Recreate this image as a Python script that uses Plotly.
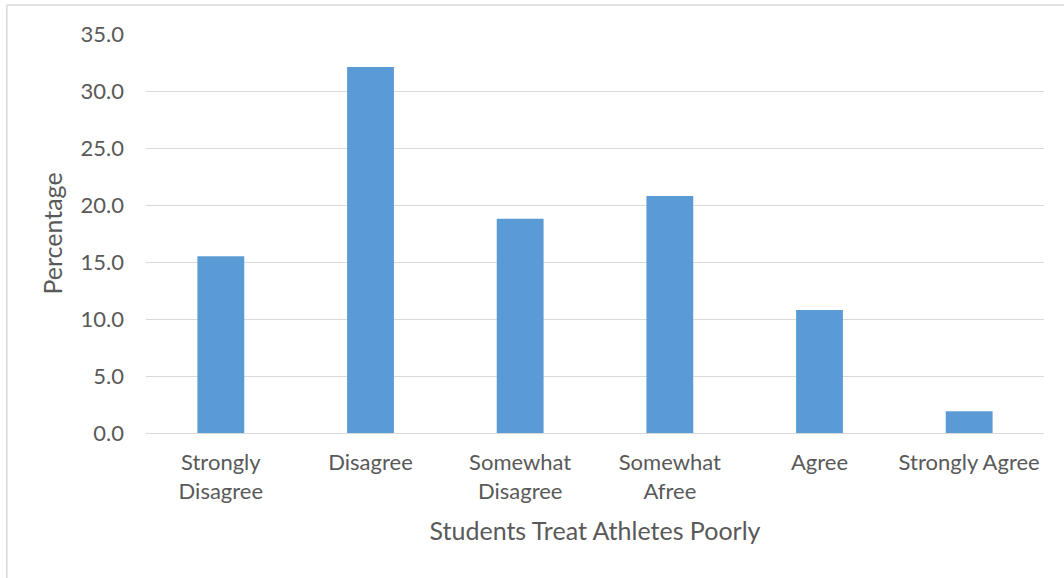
import plotly.graph_objects as go

# Survey responses: "Students treat athletes poorly"
categories = ["Strongly<br>Disagree", "Disagree", "Somewhat<br>Disagree",
              "Somewhat<br>Afree", "Agree", "Strongly Agree"]
percentages = [15.5, 32.1, 18.8, 20.8, 10.8, 1.9]
y_ticks = [0, 5, 10, 15, 20, 25, 30, 35]
y_tick_labels = ["0.0", "5.0", "10.0", "15.0", "20.0", "25.0", "30.0", "35.0"]

FONT = "Lato, 'Open Sans', sans-serif"
TEXT = "#595959"
GRID = "#D9D9D9"

fig = go.Figure(
    go.Bar(
        x=categories,
        y=percentages,
        marker=dict(color="#5B9BD5", line=dict(width=0)),
    )
)

fig.update_layout(
    width=1064,
    height=578,
    margin=dict(l=146, r=20, t=34, b=145),
    paper_bgcolor="white",
    plot_bgcolor="white",
    bargap=0.687,
    showlegend=False,
    font=dict(family=FONT, color=TEXT, size=22),
    xaxis=dict(
        title=dict(text="Students Treat Athletes Poorly",
                   font=dict(size=25, color=TEXT), standoff=19),
        showgrid=False,
        showline=False,
        ticks="",
        ticklabelstandoff=14,
        tickfont=dict(size=22, color=TEXT),
    ),
    yaxis=dict(
        title=dict(text="Percentage", font=dict(size=25, color=TEXT), standoff=10),
        range=[0, 35],
        tickvals=y_ticks,
        ticktext=y_tick_labels,
        showgrid=True,
        gridcolor=GRID,
        gridwidth=1.3,
        zeroline=True,
        zerolinecolor=GRID,
        zerolinewidth=1.3,
        showline=False,
        ticks="",
        ticklabelstandoff=21,
        tickfont=dict(size=22, color=TEXT),
    ),
    shapes=[
        # chart frame: top and left edges
        dict(type="line", xref="paper", yref="paper",
             x0=-0.155, x1=1.03, y0=1.0727, y1=1.0727,
             line=dict(color=GRID, width=1.5)),
        dict(type="line", xref="paper", yref="paper",
             x0=-0.155, x1=-0.155, y0=1.0727, y1=-0.37,
             line=dict(color=GRID, width=1.5)),
    ],
)

fig.write_html("out.html")
